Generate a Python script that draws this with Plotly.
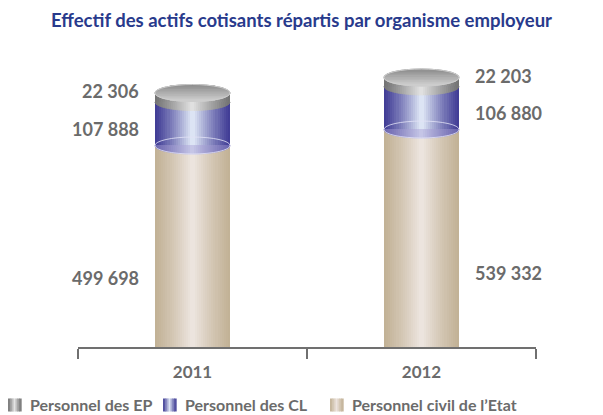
import numpy as np
import plotly.graph_objects as go

# ---------------- data ----------------
years = ["2011", "2012"]
etat = [499698, 539332]      # Personnel civil de l'Etat
cl = [107888, 106880]        # Personnel des CL
ep = [22306, 22203]          # Personnel des EP

name_etat = "Personnel civil de l’Etat"
name_cl = "Personnel des CL"
name_ep = "Personnel des EP"
title_text = "Effectif des actifs cotisants répartis par organisme employeur"

# ---------------- style ----------------
W, H = 603, 415
ML, MR, MT, MB = 78, 67, 60, 68
PW, PH = W - ML - MR, H - MT - MB

BAR_W = 0.328          # bar width (category units)
R = BAR_W / 2
ELL_H = 21000          # half height of the cylinder ellipses (data units)
N_LEVELS = 18
N_STRIPS = 36
YMAX = 711760
FONT = "Lato"
LABEL_GRAY = "#6b6b6b"
AXIS_GRAY = "#707070"
TITLE_BLUE = "#283a8c"

GRAD = {
    "etat": ((194, 178, 150), (236, 228, 222)),
    "cl": ((66, 62, 150), (220, 228, 244)),
    "cl_face": ((108, 102, 176), (200, 200, 232)),
    "ep": ((116, 116, 116), (228, 228, 228)),
}


def grad_color(key, s):
    """s = 0 at the edge of the cylinder, 1 at its centre."""
    e, c = GRAD[key]
    t = min(max(s, 0.0), 1.0) ** 1.15
    r, g, b = (int(round(e[i] + (c[i] - e[i]) * t)) for i in range(3))
    return f"rgb({r},{g},{b})"


def px_to_paper_x(px):
    return (px - ML) / PW


def px_to_paper_y(py):
    return (H - MB - py) / PH


fig = go.Figure()


def add_segment(key, name, base, values):
    for k in range(N_LEVELS):
        fig.add_trace(go.Bar(
            x=years, y=values, base=base,
            width=BAR_W * (1 - k / N_LEVELS),
            marker=dict(color=grad_color(key, k / (N_LEVELS - 1)), line=dict(width=0)),
            name=name, showlegend=False,
            hoverinfo="skip" if k else "y+name",
        ))


base_cl = list(etat)
base_ep = [a + b for a, b in zip(etat, cl)]
totals = [a + b for a, b in zip(base_ep, ep)]

add_segment("etat", name_etat, [0, 0], etat)
add_segment("cl", name_cl, base_cl, cl)
add_segment("ep", name_ep, base_ep, ep)

shapes = []


def lower_half(xc, v, key):
    edges = np.linspace(-1, 1, N_STRIPS + 1)
    for a, b in zip(edges[:-1], edges[1:]):
        us = np.linspace(a, b, 4)
        xs = xc + us * R
        ys = v - ELL_H * np.sqrt(np.clip(1 - us ** 2, 0, None))
        pts = [f"M{xc + a * R:.5f},{v:.1f}"]
        pts += [f"L{x:.5f},{y:.1f}" for x, y in zip(xs, ys)]
        pts += [f"L{xc + b * R:.5f},{v:.1f}", "Z"]
        col = grad_color(key, 1 - abs((a + b) / 2))
        shapes.append(dict(type="path", path=" ".join(pts), xref="x", yref="y",
                           fillcolor=col, line=dict(color=col, width=1), layer="above"))


def top_face(xc, v):
    m = 10
    yedges = np.linspace(v + ELL_H, v - ELL_H, m + 1)
    for j in range(m):
        ys = np.linspace(yedges[j], yedges[j + 1], 6)
        hw = R * np.sqrt(np.clip(1 - ((ys - v) / ELL_H) ** 2, 0, None))
        pts = [f"{'M' if i == 0 else 'L'}{xc - w:.5f},{y:.1f}" for i, (w, y) in enumerate(zip(hw, ys))]
        pts += [f"L{xc + w:.5f},{y:.1f}" for w, y in zip(hw[::-1], ys[::-1])]
        pts.append("Z")
        t = j / (m - 1)
        g = int(round(140 + (205 - 140) * t))
        col = f"rgb({g},{g},{g})"
        shapes.append(dict(type="path", path=" ".join(pts), xref="x", yref="y",
                           fillcolor=col, line=dict(color=col, width=1), layer="above"))
    shapes.append(dict(type="circle", xref="x", yref="y", x0=xc - R, x1=xc + R,
                       y0=v - ELL_H, y1=v + ELL_H, line=dict(color="rgb(205,205,205)", width=1),
                       fillcolor="rgba(0,0,0,0)", layer="above"))


for i in range(len(years)):
    lower_half(i, base_cl[i], "cl_face")
    shapes.append(dict(type="circle", xref="x", yref="y", x0=i - R, x1=i + R,
                       y0=base_cl[i] - ELL_H, y1=base_cl[i] + ELL_H,
                       line=dict(color="rgba(226,226,246,0.8)", width=1),
                       fillcolor="rgba(0,0,0,0)", layer="above"))
    lower_half(i, base_ep[i], "ep")
    top_face(i, totals[i])

# value labels
annotations = []
label_frac = {"etat": 0.34, "cl": 0.38, "ep": 1.2}
for i in range(len(years)):
    left = i == 0
    for key, b, v in (("etat", 0, etat[i]), ("cl", base_cl[i], cl[i]), ("ep", base_ep[i], ep[i])):
        annotations.append(dict(
            x=i - R if left else i + R, y=b + v * label_frac[key], xref="x", yref="y",
            text=f"{v:,}".replace(",", " "), showarrow=False,
            xanchor="right" if left else "left", yanchor="middle",
            xshift=-14 if left else 14,
            font=dict(family=FONT, size=18, color=LABEL_GRAY, weight="bold"),
        ))

# legend (drawn as gradient swatches + text)
legend_items = [("ep", name_ep, 8), ("cl", name_cl, 163), ("etat", name_etat, 330)]
SW, SH, LEG_Y = 13, 13, 404
for key, name, x0 in legend_items:
    n = 7
    for j in range(n):
        xa, xb = x0 + SW * j / n, x0 + SW * (j + 1) / n
        u = ((xa + xb) / 2 - (x0 + SW / 2)) / (SW / 2)
        col = grad_color(key, 1 - abs(u))
        shapes.append(dict(type="rect", xref="paper", yref="paper",
                           x0=px_to_paper_x(xa), x1=px_to_paper_x(xb) + 0.0015,
                           y0=px_to_paper_y(LEG_Y + 1 + SH / 2), y1=px_to_paper_y(LEG_Y + 1 - SH / 2),
                           fillcolor=col, line=dict(width=0), layer="above"))
    annotations.append(dict(
        x=px_to_paper_x(x0 + SW + 7), y=px_to_paper_y(LEG_Y), xref="paper", yref="paper",
        text=name, showarrow=False, xanchor="left", yanchor="middle",
        font=dict(family=FONT, size=16, color=LABEL_GRAY, weight="bold"),
    ))

fig.update_layout(
    width=W, height=H,
    margin=dict(l=ML, r=MR, t=MT, b=MB),
    paper_bgcolor="white", plot_bgcolor="white",
    barmode="overlay", bargap=0,
    shapes=shapes, annotations=annotations,
    title=dict(text=title_text, x=0.5, xref="container", xanchor="center",
               y=1 - 21 / H, yref="container", yanchor="middle",
               font=dict(family=FONT, size=18.5, color=TITLE_BLUE, weight="bold")),
    xaxis=dict(type="category", range=[-0.5, 1.5], showline=True, linecolor=AXIS_GRAY,
               linewidth=2, ticks="outside", tickson="boundaries", ticklen=10, tickwidth=2,
               tickcolor=AXIS_GRAY, showgrid=False, zeroline=False, ticklabelstandoff=9,
               tickfont=dict(family=FONT, size=17, color=LABEL_GRAY, weight="bold")),
    yaxis=dict(visible=False, range=[0, YMAX], showgrid=False, zeroline=False),
    showlegend=False,
)

fig.write_html("out.html", config={"displayModeBar": False},
               post_script="document.body.style.margin='0';document.body.style.overflow='hidden';")
